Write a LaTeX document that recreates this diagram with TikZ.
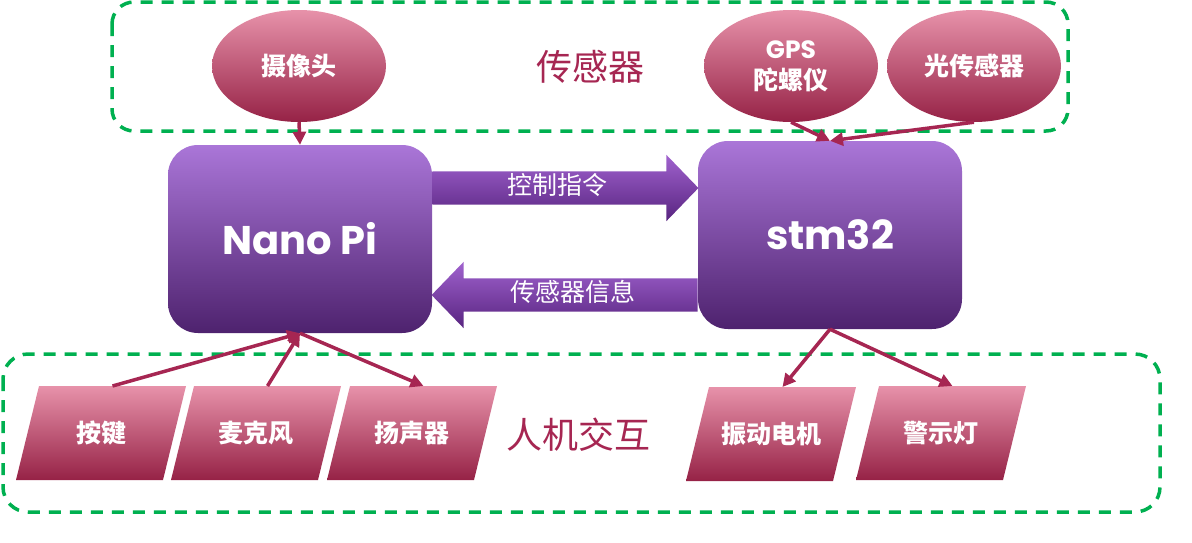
\documentclass[tikz,border=0pt]{standalone}
\usepackage{fontspec}
\newfontfamily\cjk{Noto Sans CJK SC}
\newfontfamily\gothic{Poppins}
\usetikzlibrary{shapes.geometric,shapes.arrows,arrows.meta,calc}

\definecolor{boardtop}{RGB}{170,118,216}
\definecolor{boardmid}{RGB}{122,52,168}
\definecolor{boardbot}{RGB}{78,34,110}
\definecolor{arrowtop}{RGB}{160,98,206}
\definecolor{arrowbot}{RGB}{88,36,128}
\definecolor{pinktop}{RGB}{231,146,170}
\definecolor{pinkmid}{RGB}{214,80,120}
\definecolor{pinkbot}{RGB}{150,34,70}
\definecolor{wine}{RGB}{166,38,82}
\definecolor{groupgreen}{RGB}{0,176,80}

\tikzset{
  board/.style={rectangle, rounded corners=30pt, minimum width=264pt, minimum height=188pt,
    inner sep=0pt, top color=boardtop, middle color=boardmid, bottom color=boardbot,
    text=white, font=\gothic\bfseries\fontsize{40}{40}\selectfont},
  sensor/.style={ellipse, minimum width=174pt, minimum height=112pt, inner sep=0pt,
    top color=pinktop, middle color=pinkmid, bottom color=pinkbot, text=white,
    align=center, font=\cjk\bfseries\fontsize{25}{31}\selectfont},
  devfill/.style={top color=pinktop, middle color=pinkmid, bottom color=pinkbot},
  devlabel/.style={inner sep=0pt, text=white, font=\cjk\bfseries\fontsize{25}{25}\selectfont},
  flowarrow/.style={single arrow, single arrow head extend=16.5pt, single arrow tip angle=92,
    inner xsep=0pt, inner ysep=5pt, text height=18pt, text depth=5pt, minimum height=266pt,
    top color=arrowtop, bottom color=arrowbot, text=white,
    font=\cjk\fontsize{25}{25}\selectfont},
  link/.style={color=wine, line width=3.5pt, -{Triangle[length=13pt,width=13pt]}},
  group/.style={color=groupgreen, line width=3.5pt, dash pattern=on 12pt off 9pt},
  grouplabel/.style={text=wine, font=\cjk\fontsize{36}{36}\selectfont},
}

% slanted box: name, centre, text; (name top) is the middle of its top side
\newcommand{\devicebox}[3]{%
  \shade[devfill] ($(#2)+(-85,47)$) -- ++(147,0) -- ++(23,-94) -- ++(-147,0) -- cycle;
  \node[devlabel] (#1) at (#2) {#3};
  \coordinate (#1 top) at ($(#2)+(11.5,-47)$);
}

\begin{document}
\begin{tikzpicture}[x=1pt,y=-1pt]
\useasboundingbox (0,0) rectangle (1192,542);

\draw [group, rounded corners=22pt] (112,2) rectangle (1068,131);
\draw [group, rounded corners=25pt] (3,354) rectangle (1160,512);

\node [grouplabel] (sensorlabel) at (590,67)  {传感器};
\node [grouplabel] (hcilabel)    at (578,435) {人机交互};

\node [board] (nano) at (300,239) {Nano Pi};
\node [board] (stm)  at (830,235) {stm32};

\node [sensor] (cam)   at (299,66) {摄像头};
\node [sensor] (gps)   at (791,66) {{\gothic\bfseries GPS}\\陀螺仪};
\node [sensor] (light) at (974,66) {光传感器};

\devicebox{key}{101,433}{按键}
\devicebox{mic}{256,433}{麦克风}
\devicebox{spk}{412,433}{扬声器}
\devicebox{motor}{771,434}{振动电机}
\devicebox{lamp}{941,433}{警示灯}

\coordinate (cmdy)  at (0,188);
\coordinate (infoy) at (0,295);
\node [flowarrow, anchor=tail] (cmd) at (nano.east |- cmdy) {控制指令};
\node [flowarrow, anchor=tail, shape border rotate=180] (info) at (stm.west |- infoy) {传感器信息};

\draw [link] (cam.south)   -- (nano.north);
\draw [link] (gps.south)   -- (stm.north);
\draw [link] (light.south) -- (stm.north);
\draw [link] (key top)     -- (nano.south);
\draw [link] (mic top)     -- (nano.south);
\draw [link] (nano.south)  -- (spk top);
\draw [link] (stm.south)   -- (motor top);
\draw [link] (stm.south)   -- (lamp top);
\end{tikzpicture}
\end{document}
